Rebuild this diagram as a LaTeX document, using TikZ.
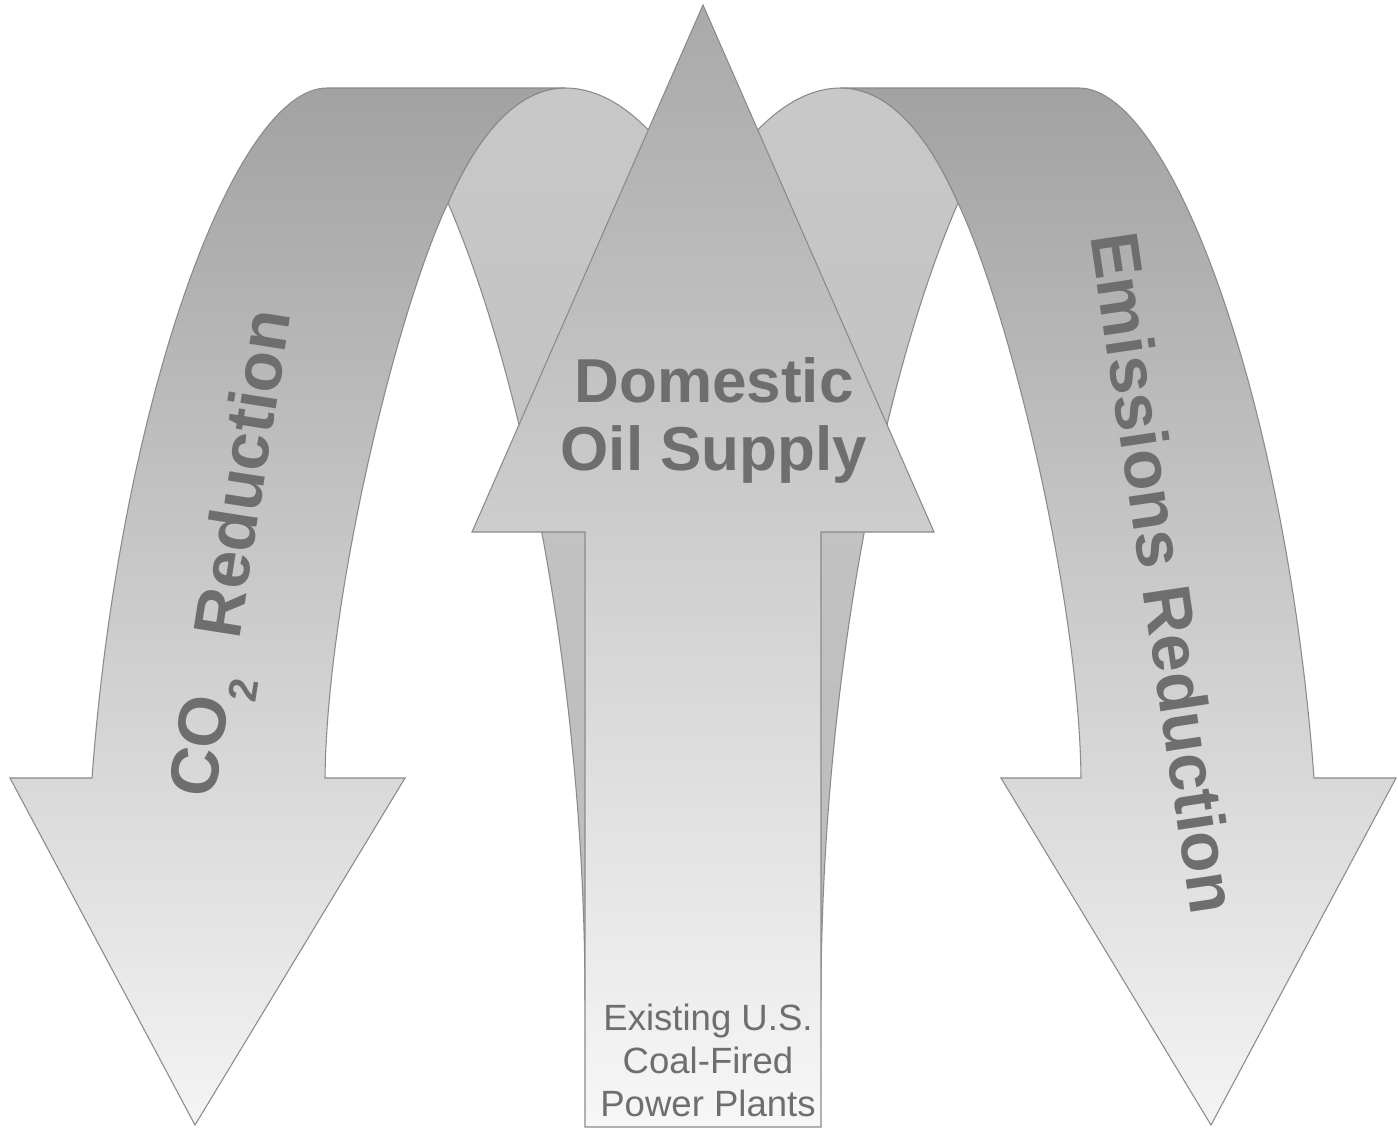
\documentclass[tikz,border=0pt]{standalone}
\usepackage{fontspec}
\setmainfont{Liberation Sans}
\definecolor{edgecolour}{HTML}{8A8A8A}
\definecolor{textcolour}{HTML}{6E6E6E}
\definecolor{bandtop}{HTML}{A2A2A2}
\definecolor{bandbottom}{HTML}{F4F4F4}
\definecolor{backtop}{HTML}{C8C8C8}
\definecolor{backbottom}{HTML}{BBBBBB}
\definecolor{maintop}{HTML}{A9A9A9}
\definecolor{mainbottom}{HTML}{F7F7F7}

\begin{document}
\begin{tikzpicture}[x=0.02cm,y=-0.02cm,
  outline/.style={draw=edgecolour,line width=0.6pt,line join=miter},
  frontband/.style={outline,top color=bandtop,bottom color=bandbottom},
  backband/.style={outline,top color=backtop,bottom color=backbottom},
  mainarrow/.style={outline,top color=maintop,bottom color=mainbottom},
  bandlabel/.style={text=textcolour,inner sep=0pt,anchor=base west,font=\fontsize{38.5}{42}\selectfont\bfseries},
  oillabel/.style={text=textcolour,inner sep=0pt,align=center,font=\fontsize{35.3}{38.7}\selectfont\bfseries},
  baselabel/.style={text=textcolour,inner sep=0pt,align=center,font=\fontsize{20.8}{24.5}\selectfont}]
\useasboundingbox[fill=white] (0,0) rectangle (1398,1130);

% Back face of CO2 Reduction
\draw[backband] (448,203) .. controls (480,130) and (520,88) .. (565,88) .. controls (600,88) and (640,110) .. (680,170) -- (700,530) -- (700,1000) -- (585,1000) .. controls (585,700) and (528,388) .. (448,203) -- cycle;
% Back face of Emissions Reduction
\draw[backband] (958,203) .. controls (926,130) and (886,88) .. (841,88) .. controls (806,88) and (766,110) .. (726,170) -- (706,530) -- (706,1000) -- (821,1000) .. controls (821,700) and (878,388) .. (958,203) -- cycle;

% CO2 Reduction
\draw[frontband] (92,778) -- (10,778) -- (195,1125) -- (405,778) -- (325,778) .. controls (327,600) and (395,315) .. (448,203) .. controls (480,130) and (520,88) .. (565,88) -- (327,88) .. controls (235,88) and (120,400) .. (92,778) -- cycle;
% Emissions Reduction
\draw[frontband] (1314,778) -- (1396,778) -- (1211,1125) -- (1001,778) -- (1081,778) .. controls (1079,600) and (1011,315) .. (958,203) .. controls (926,130) and (886,88) .. (841,88) -- (1079,88) .. controls (1171,88) and (1286,400) .. (1314,778) -- cycle;

% Domestic Oil Supply
\draw[mainarrow] (703,5) -- (934,532) -- (821,532) -- (821,1127) -- (585,1127) -- (585,532) -- (472,532) -- cycle;

% Labels
\node[bandlabel,rotate=81] (co2label) at (214,800) {CO\raisebox{-0.38em}{\fontsize{23}{23}\selectfont 2}~~Reduction};
\node[bandlabel,rotate=-81.5] (emissionslabel) at (1090,236) {Emissions Reduction};
\node[oillabel] (oillabel) at (714,420) {Domestic\\Oil Supply};
\node[baselabel] (coallabel) at (708,1060) {Existing U.S.\\Coal-Fired\\Power Plants};

\end{tikzpicture}
\end{document}
